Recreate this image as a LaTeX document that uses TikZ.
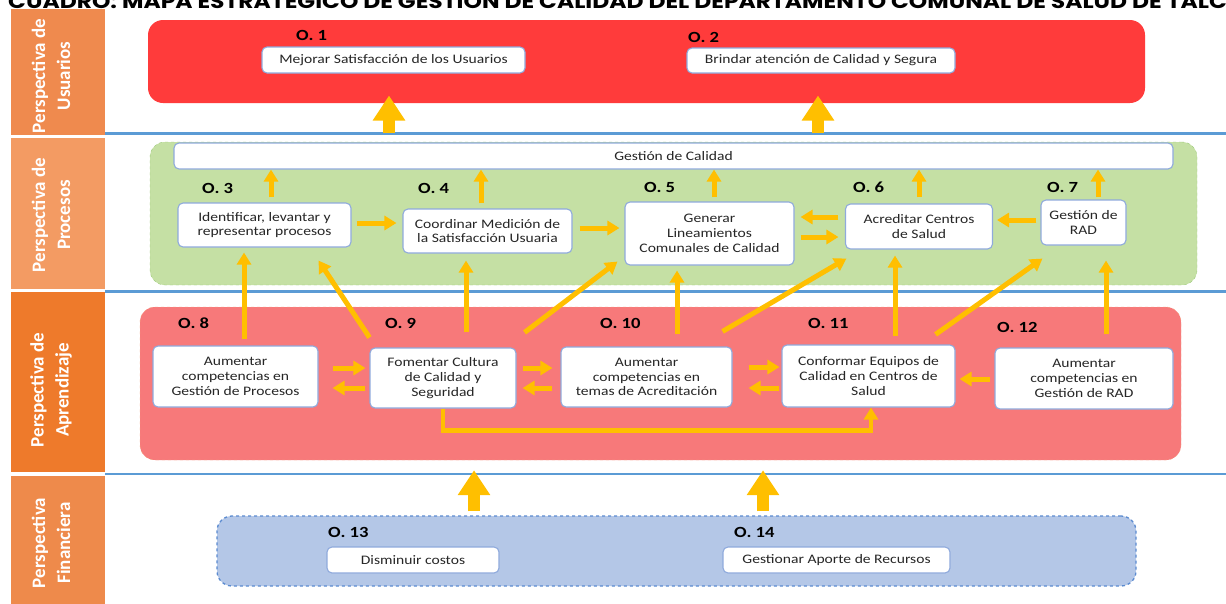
\documentclass[tikz,border=0pt]{standalone}
\usepackage{fontspec}
\setmainfont{Carlito}[FakeStretch=1.2]
\newfontfamily\perspfont{Carlito}
\newfontfamily\titlefont{Poppins}[FakeStretch=1.2]
\usepackage{xcolor}
\usetikzlibrary{arrows.meta, positioning, calc}

\definecolor{arrowc}{HTML}{FFBF00}
\definecolor{sepblue}{HTML}{5B9BD5}
\definecolor{boxline}{HTML}{8FAADC}
\definecolor{usrfill}{HTML}{FF3B3B}
\definecolor{prcfill}{HTML}{C5E0A4}
\definecolor{prcline}{HTML}{9CC97A}
\definecolor{aprfill}{HTML}{F7797A}
\definecolor{aprline}{HTML}{F4A582}
\definecolor{finfill}{HTML}{B4C7E7}
\definecolor{finline}{HTML}{5B8BD0}
\definecolor{orgA}{HTML}{EF8A4E}
\definecolor{orgB}{HTML}{F39B63}
\definecolor{orgC}{HTML}{EE7A2B}
\definecolor{orgD}{HTML}{EE8A4B}
\definecolor{txtgray}{HTML}{262626}

\begin{document}
\begin{tikzpicture}[x=1pt, y=-1pt,
        region/.style={rectangle, rounded corners=15pt, inner sep=0pt},
        objbox/.style={rectangle, draw=boxline, line width=1.1pt, fill=white, rounded corners=5pt, align=center, inner sep=1pt, text=txtgray, font=\fontsize{13}{14.8}\selectfont},
        olabel/.style={anchor=west, inner sep=0pt, font=\bfseries\fontsize{15.5}{18}\selectfont},
        persp/.style={rectangle, inner sep=0pt, minimum width=94pt},
        persptext/.style={rotate=90, align=center, text=white, font=\perspfont\bfseries\fontsize{19}{25}\selectfont},
        sepline/.style={draw=sepblue, line width=2.5pt},
        arrow/.style={draw=arrowc, line width=5pt, -{Triangle[width=14pt, length=12pt]}},
        bigarrow/.style={draw=arrowc, line width=12pt, -{Triangle[width=31pt, length=25pt]}}
    ]
    \useasboundingbox (0,0) rectangle (1226,603);
    \clip (0,0) rectangle (1226,603);

    % Title (cut at the top edge)
    \node (title) [anchor=base west, inner sep=0pt, font=\titlefont\bfseries\fontsize{19.5}{22}\selectfont] at (8,8.5)
        {CUADRO: MAPA ESTRATÉGICO DE GESTIÓN DE CALIDAD DEL DEPARTAMENTO COMUNAL DE SALUD DE TALCA};

    % Perspectives column
    \node (lu) [persp, fill=orgA, minimum height=126pt] at (58,72) {};
    \node (lp) [persp, fill=orgB, minimum height=151pt] at (58,213.5) {};
    \node (la) [persp, fill=orgC, minimum height=180pt] at (58,382) {};
    \node (lf) [persp, fill=orgD, minimum height=130pt] at (58,541) {};
    \node [persptext] at (51,76) {Perspectiva de\\Usuarios};
    \node [persptext] at (51,215) {Perspectiva de\\Procesos};
    \node [persptext] at (51,390) {Perspectiva de\\Aprendizaje};
    \node [persptext] at (51,543) {Perspectiva\\Financiera};

    % Regions
    \node (usr) [region, fill=usrfill, minimum width=997pt, minimum height=83pt] at (646.5,61.5) {};
    \node (prc) [region, fill=prcfill, draw=prcline, dashed, minimum width=1047pt, minimum height=143pt] at (673.5,213.5) {};
    \node (apr) [region, fill=aprfill, draw=aprline, dashed, minimum width=1041pt, minimum height=153pt] at (660.5,383.5) {};
    \node (fin) [region, fill=finfill, draw=finline, dashed, line width=1.3pt, minimum width=919pt, minimum height=70pt] at (676.5,551) {};

    % Separators
    \coordinate (s1w) at (105,133.5);
    \coordinate (s1e) at (1226,133.5);
    \coordinate (s2w) at (105,291.5);
    \coordinate (s2e) at (1226,291.5);
    \coordinate (s3w) at (105,474);
    \coordinate (s3e) at (1226,474);
    \draw[sepline] (s1w) -- (s1e);
    \draw[sepline] (s2w) -- (s2e);
    \draw[sepline] (s3w) -- (s3e);

    % Usuarios
    \node (o1box) [objbox, minimum width=263pt, minimum height=26pt] at (393.5,60) {Mejorar Satisfacción de los Usuarios};
    \node (o2box) [objbox, minimum width=268pt, minimum height=25pt] at (821,60.5) {Brindar atención de Calidad y Segura};
    \node [olabel] at (296,35) {O. 1};
    \node [olabel] at (688,37) {O. 2};

    % Procesos
    \node (gestion) [objbox, minimum width=999pt, minimum height=26pt] at (673.5,156) {Gestión de Calidad};
    \node (o3box) [objbox, minimum width=173pt, minimum height=44pt] at (264.5,225) {Identificar, levantar y\\representar procesos};
    \node (o4box) [objbox, minimum width=169pt, minimum height=44pt] at (487.5,231) {Coordinar Medición de\\la Satisfacción Usuaria};
    \node (o5box) [objbox, minimum width=169pt, minimum height=63pt] at (709.5,233.5) {Generar\\Lineamientos\\Comunales de Calidad};
    \node (o6box) [objbox, minimum width=147pt, minimum height=45pt] at (919,226.5) {Acreditar Centros\\de Salud};
    \node (o7box) [objbox, minimum width=85pt, minimum height=45pt] at (1083.5,222.5) {Gestión de\\RAD};
    \node [olabel] at (202,188) {O. 3};
    \node [olabel] at (418,188) {O. 4};
    \node [olabel] at (644,187) {O. 5};
    \node [olabel] at (853,187) {O. 6};
    \node [olabel] at (1047,187) {O. 7};

    % Aprendizaje
    \node (o8box) [objbox, minimum width=165pt, minimum height=61pt] at (235.5,376.5) {Aumentar\\competencias en\\Gestión de Procesos};
    \node (o9box) [objbox, minimum width=146pt, minimum height=60pt] at (443,378) {Fomentar Cultura\\de Calidad y\\Seguridad};
    \node (o10box) [objbox, minimum width=171pt, minimum height=60pt] at (646.5,377) {Aumentar\\competencias en\\temas de Acreditación};
    \node (o11box) [objbox, minimum width=173pt, minimum height=62pt] at (868.5,376) {Conformar Equipos de\\Calidad en Centros de\\Salud};
    \node (o12box) [objbox, minimum width=178pt, minimum height=61pt] at (1084,378.5) {Aumentar\\competencias en\\Gestión de RAD};
    \node [olabel] at (178,323) {O. 8};
    \node [olabel] at (385,323) {O. 9};
    \node [olabel] at (600,323) {O. 10};
    \node [olabel] at (808,323) {O. 11};
    \node [olabel] at (997,327) {O. 12};

    % Financiera
    \node (o13box) [objbox, minimum width=172pt, minimum height=26pt] at (413,560) {Disminuir costos};
    \node (o14box) [objbox, minimum width=227pt, minimum height=26pt] at (836.5,560) {Gestionar Aporte de Recursos};
    \node [olabel] at (328,532) {O. 13};
    \node [olabel] at (734,532) {O. 14};

    % Edges: into Usuarios
    \draw[bigarrow, shorten >=22pt] ([xshift=-284.5pt, yshift=8.5pt]prc.north) -- ([xshift=-284.5pt]prc.north |- o1box.south);
    \draw[bigarrow, shorten >=22pt] ([xshift=144.5pt, yshift=8.5pt]prc.north) -- ([xshift=144.5pt]prc.north |- o2box.south);

    % Edges: up to Gestion de Calidad
    \draw[arrow] ([xshift=6.5pt, yshift=5pt]o3box.north) -- ([xshift=6.5pt]o3box.north |- gestion.south);
    \draw[arrow] ([xshift=-6.5pt, yshift=5pt]o4box.north) -- ([xshift=-6.5pt]o4box.north |- gestion.south);
    \draw[arrow] ([xshift=4.5pt, yshift=4pt]o5box.north) -- ([xshift=4.5pt]o5box.north |- gestion.south);
    \draw[arrow] ([yshift=6pt]o6box.north) -- (o6box.north |- gestion.south);
    \draw[arrow] ([xshift=14.5pt, yshift=2pt]o7box.north) -- ([xshift=14.5pt]o7box.north |- gestion.south);

    % Edges: inside Procesos
    \draw[arrow, shorten <=5pt, shorten >=6pt] ([yshift=2pt]o3box.east) -- ([yshift=2pt]o3box.east -| o4box.west);
    \draw[arrow, shorten <=7pt, shorten >=5pt] ([yshift=3pt]o4box.east) -- ([yshift=3pt]o4box.east -| o5box.west);
    \draw[arrow, shorten <=6.5pt, shorten >=6pt] ([yshift=9.5pt]o6box.west) -- ([yshift=9.5pt]o6box.west -| o5box.east);
    \draw[arrow, shorten <=6pt, shorten >=6.5pt] ([yshift=-3.5pt]o5box.east) -- ([yshift=-3.5pt]o5box.east -| o6box.west);
    \draw[arrow, shorten <=4pt, shorten >=4pt] ([yshift=2.5pt]o7box.west) -- ([yshift=2.5pt]o7box.west -| o6box.east);

    % Edges: Aprendizaje to Procesos
    \draw[arrow, shorten >=5pt] ([xshift=8.5pt, yshift=6pt]o8box.north) -- ([xshift=8.5pt]o8box.north |- o3box.south);
    \draw[arrow] ([yshift=10pt]o9box.north west) -- ([xshift=-33pt, yshift=-13pt]o3box.south east);
    \draw[arrow, shorten >=7pt] ([xshift=23pt, yshift=15pt]o9box.north) -- ([xshift=23pt]o9box.north |- o4box.south);
    \draw[arrow] ([xshift=8pt, yshift=15pt]o9box.north east) -- ([xshift=-7pt, yshift=4pt]o5box.south west);
    \draw[arrow, shorten >=5pt] ([xshift=30.5pt, yshift=12pt]o10box.north) -- ([xshift=30.5pt]o10box.north |- o5box.south);
    \draw[arrow] ([xshift=-10pt, yshift=15pt]o10box.north east) -- ([xshift=1.5pt, yshift=-9pt]o6box.south west);
    \draw[arrow, shorten >=6pt] ([xshift=26.5pt, yshift=8pt]o11box.north) -- ([xshift=26.5pt]o11box.north |- o6box.south);
    \draw[arrow] ([xshift=-20pt, yshift=10pt]o11box.north east) -- ([xshift=2pt, yshift=-13pt]o7box.south west);
    \draw[arrow, shorten >=15pt] ([xshift=22pt, yshift=13pt]o12box.north) -- ([xshift=22pt]o12box.north |- o7box.south);

    % Edges: inside Aprendizaje
    \draw[arrow, shorten <=14pt, shorten >=4pt] ([yshift=8.5pt]o8box.east) -- ([yshift=8.5pt]o8box.east -| o9box.west);
    \draw[arrow, shorten <=4pt, shorten >=14pt] ([yshift=-10pt]o9box.west) -- ([yshift=-10pt]o9box.west -| o8box.east);
    \draw[arrow, shorten <=6pt, shorten >=8pt] ([yshift=10pt]o9box.east) -- ([yshift=10pt]o9box.east -| o10box.west);
    \draw[arrow, shorten <=8pt, shorten >=6pt] ([yshift=-11pt]o10box.west) -- ([yshift=-11pt]o10box.west -| o9box.east);
    \draw[arrow, shorten <=16pt, shorten >=2pt] ([yshift=10pt]o10box.east) -- ([yshift=10pt]o10box.east -| o11box.west);
    \draw[arrow, shorten <=2pt, shorten >=16pt] ([yshift=-12pt]o11box.west) -- ([yshift=-12pt]o11box.west -| o10box.east);
    \draw[arrow, shorten <=4pt, shorten >=4pt] ([yshift=-0.5pt]o12box.west) -- ([yshift=-0.5pt]o12box.west -| o11box.east);
    \draw[arrow, line width=4.5pt] (o9box.south) -- ++(0,22) -| ([xshift=2.5pt]o11box.south);

    % Edges: from Financiera
    \draw[bigarrow, shorten >=10pt] ([xshift=-202.5pt, yshift=4pt]fin.north) -- ([xshift=-202.5pt]fin.north |- apr.south);
    \draw[bigarrow, shorten >=10pt] ([xshift=86.5pt, yshift=4pt]fin.north) -- ([xshift=86.5pt]fin.north |- apr.south);

\end{tikzpicture}
\end{document}
